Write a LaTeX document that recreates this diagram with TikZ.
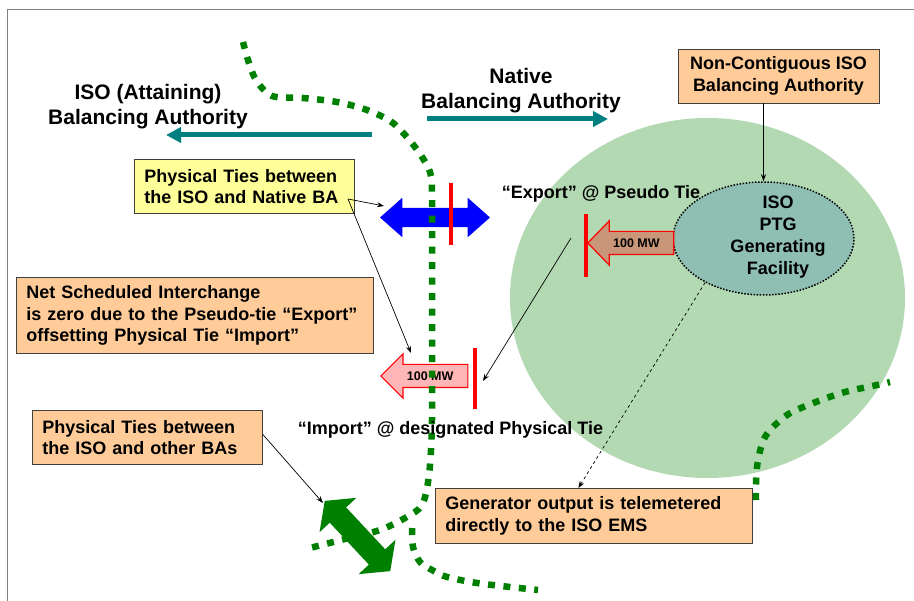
\documentclass[tikz,border=0pt]{standalone}
\usepackage{fontspec}
\setmainfont{Liberation Sans}
\usepackage{tikz}
\usetikzlibrary{shapes.arrows,shapes.geometric,arrows.meta}

\definecolor{peach}{RGB}{255,204,153}
\definecolor{paleyellow}{RGB}{255,255,153}
\definecolor{nativegreen}{RGB}{179,217,179}
\definecolor{ptgteal}{RGB}{143,190,178}
\definecolor{tiegreen}{RGB}{0,128,0}
\definecolor{pinkfill}{RGB}{255,182,182}
\definecolor{brownfill}{RGB}{201,150,122}
\definecolor{boxline}{RGB}{64,64,64}

\begin{document}
\begin{tikzpicture}[x=1pt, y=-1pt,
  tieline/.style={draw=tiegreen, line width=6.5pt, dash pattern=on 7pt off 8.5pt},
  tiebar/.style={draw=red, line width=3.5pt},
  flowarrow/.style={draw=teal, line width=5pt, -{Triangle[length=15pt, width=15pt]}},
  headtext/.style={font=\fontsize{21}{25}\selectfont\bfseries, align=center},
  tietext/.style={font=\fontsize{18}{22}\selectfont\bfseries},
  notebox/.style={draw=boxline, fill=peach, line width=0.8pt, anchor=north west, align=left,
    inner xsep=10pt, inner ysep=0pt, font=\fontsize{18}{21.5}\selectfont\bfseries},
  pointer/.style={draw=black, line width=0.7pt, -{Stealth[length=7pt, width=5pt]}},
  mwarrow/.style={single arrow, shape border rotate=180, draw=red, line width=1.2pt, anchor=tip,
    minimum width=0pt, inner xsep=3pt, inner ysep=6.5pt, text height=9pt, text depth=0pt,
    single arrow head extend=10.5pt, single arrow tip angle=92, font=\fontsize{12.5}{14}\selectfont\bfseries},
  tiearrow/.style={double arrow, minimum width=0pt, inner sep=0pt, text height=0pt, text depth=0pt}
  ]
  \useasboundingbox (0,0) rectangle (914,601);
  \draw[gray, line width=1pt] (7,601) -- (7,10) -- (914,10);

  % native BA area and the PTG
  \fill[nativegreen] (707.5,298) ellipse [x radius=197.5, y radius=180];
  \node[ellipse, fill=ptgteal, draw=black, line width=1.5pt, dash pattern=on 1.5pt off 1.6pt,
    minimum width=181pt, minimum height=113pt] (ptg) at (763.5,238.5) {};
  \node[tietext, align=center] (ptgname) at (778,237.5) {ISO\\PTG\\Generating\\Facility};

  % who is where
  \node[headtext] (isoba) at (148,106.5) {ISO (Attaining)\\Balancing Authority};
  \node[headtext] (nativeba) at (521,90.5) {Native\\Balancing Authority};
  \coordinate (isotail) at (372,135);
  \coordinate (isohead) at (166,135);
  \coordinate (nativetail) at (427,119);
  \coordinate (nativehead) at (608,119);
  \draw[flowarrow] (isotail) -- (isohead);
  \draw[flowarrow] (nativetail) -- (nativehead);

  \node[notebox, anchor=center, align=center, minimum width=201pt, minimum height=54pt] (ncba)
    at (778.5,76) {Non-Contiguous ISO\\Balancing Authority};
  \draw[pointer, line width=1.5pt] (ptg.north |- ncba.south) -- (ptg.north);

  % ties
  \node[tiearrow, fill=blue, minimum height=110pt, inner ysep=9.5pt, double arrow head extend=10pt,
    double arrow tip angle=83] (nativetie) at (435,217.5) {};
  \draw[tiebar] (451,183) -- (451,245);
  \node[mwarrow, fill=brownfill, minimum height=86pt] (pseudo) at (587,243) {100 MW};
  \draw[tiebar] (586,214) -- (586,277);
  \node[mwarrow, fill=pinkfill, minimum height=87pt, single arrow tip angle=90] (physical) at (380,376) {100 MW};
  \draw[tiebar] (475,348) -- (475,409);
  \node[tiearrow, fill=tiegreen, minimum height=96pt, inner ysep=11pt, double arrow head extend=14pt,
    double arrow tip angle=105, rotate=-47] (othertie) at (357.5,536) {};

  % BA borders
  \draw[tieline] plot[smooth] coordinates {(243,42) (248,60) (256,80) (272,96) (303,98) (337,102)
    (367,110) (393,123) (415,147) (430,172) (432,200) (432,300) (432,420) (429,475) (422,505)
    (405,518) (380,530) (345,539) (310,548)};
  \draw[tieline] plot[smooth] coordinates {(412,528) (413,547) (420,562) (432,570) (447,577)
    (477,583) (510,587) (538,590)};
  \draw[tieline] plot[smooth] coordinates {(756,500) (757,467) (765,437) (787,415) (816,402)
    (845,392) (877,385) (890,382)};

  \node[tietext] (exportlbl) at (601,194) {“Export” @ Pseudo Tie};
  \node[tietext] (importlbl) at (450.5,429.5) {“Import” @ designated Physical Tie};

  % notes
  \node[notebox, fill=paleyellow, text width=200pt, minimum height=54pt] (nativeties) at (134,159)
    {Physical Ties between\\the ISO and Native BA};
  \node[notebox, text width=337pt, minimum height=76pt] (nsi) at (16,277)
    {Net Scheduled Interchange\\is zero due to the Pseudo-tie “Export”\\offsetting Physical Tie “Import”};
  \node[notebox, text width=210pt, minimum height=54pt] (otherties) at (32,410)
    {Physical Ties between\\the ISO and other BAs};
  \node[notebox, text width=297pt, minimum height=55pt] (telemetry) at (435,488)
    {Generator output is telemetered\\directly to the ISO EMS};

  \coordinate (nativetiesend) at (348,199);
  \coordinate (bluehit) at (384,206);
  \coordinate (pinkhit) at (411,353);
  \coordinate (pseudoend) at (571,238);
  \coordinate (physend) at (483,381);
  \coordinate (greenhit) at (323,503);
  \draw[pointer] (nativetiesend) -- (bluehit);
  \draw[pointer] (nativetiesend) -- (pinkhit);
  \draw[pointer] (pseudoend) -- (physend);
  \draw[pointer] ([yshift=3pt]otherties.east) -- (greenhit);
  \draw[pointer, dashed] (ptg.217) -- ([xshift=-15.5pt]telemetry.north);
\end{tikzpicture}
\end{document}
